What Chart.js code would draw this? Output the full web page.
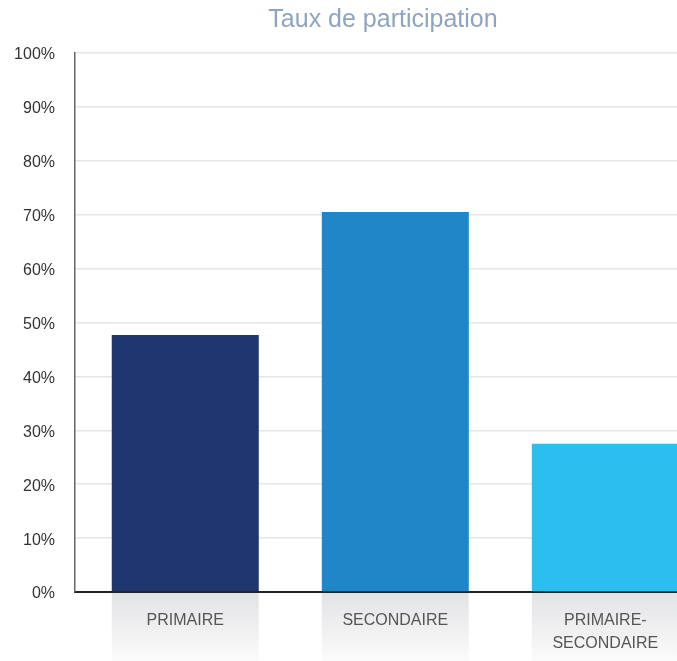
<!DOCTYPE html>
<html>
<head>
<meta charset="utf-8">
<script src="https://cdn.jsdelivr.net/npm/chart.js@4/dist/chart.umd.min.js"></script>
<style>
  html, body { margin: 0; padding: 0; overflow: hidden; background: #fff; }
  #chart { display: block; }
</style>
</head>
<body>
<canvas id="chart" width="766" height="661"></canvas>
<script>
// données
const categories = [['PRIMAIRE'], ['SECONDAIRE'], ['PRIMAIRE-', 'SECONDAIRE']];
const participation = [47.7, 70.5, 27.5];
const barColors = ['#20366e', '#2086c8', '#2bbff0'];
const yTickValues = [0, 10, 20, 30, 40, 50, 60, 70, 80, 90, 100];

const FONT = "'Liberation Sans', Arial, sans-serif";

// fond dégradé gris sous chaque étiquette de catégorie
const labelBoxes = {
  id: 'labelBoxes',
  beforeDraw(chart) {
    const ctx = chart.ctx;
    const area = chart.chartArea;
    const meta = chart.getDatasetMeta(0);
    const grad = ctx.createLinearGradient(0, area.bottom, 0, chart.height);
    grad.addColorStop(0, '#e2e3e5');
    grad.addColorStop(1, '#fbfbfb');
    ctx.save();
    ctx.fillStyle = grad;
    meta.data.forEach(bar => {
      ctx.fillRect(bar.x - bar.width / 2, area.bottom, bar.width, chart.height - area.bottom);
    });
    ctx.restore();
  }
};

new Chart(document.getElementById('chart'), {
  type: 'bar',
  data: {
    datasets: [{
      label: 'Taux de participation',
      data: participation.map((v, i) => ({ x: i, y: v })),
      backgroundColor: barColors,
      borderWidth: 0,
      categoryPercentage: 1,
      barPercentage: 0.7
    }]
  },
  options: {
    responsive: false,
    animation: false,
    layout: { padding: 0 },
    plugins: {
      legend: { display: false },
      tooltip: { enabled: false },
      title: {
        display: true,
        text: 'Taux de participation',
        color: '#8fa4c0',
        font: { family: FONT, size: 25, weight: 'normal' },
        padding: { top: 5, bottom: 18 }
      }
    },
    scales: {
      x: {
        type: 'linear',
        offset: false,
        min: -0.525,
        max: 2.765,
        afterFit(scale) { scale.height = 69; },
        afterBuildTicks(scale) {
          scale.ticks = scale.ticks.filter(t => Number.isInteger(t.value) && categories[t.value]);
          scale.min = -0.525;
          scale.max = 2.765;
        },
        grid: { display: false, drawTicks: false, offset: false },
        border: { display: true, color: '#222', width: 2 },
        ticks: {
          stepSize: 1,
          includeBounds: false,
          autoSkip: false,
          maxRotation: 0,
          padding: 17,
          color: '#555',
          font: { family: FONT, size: 16, lineHeight: 1.44 },
          callback: v => categories[v]
        }
      },
      y: {
        min: 0,
        max: 100,
        afterFit(scale) { scale.width = 75; },
        afterBuildTicks(scale) {
          scale.ticks = yTickValues.map(v => ({ value: v }));
        },
        grid: {
          drawTicks: false,
          lineWidth: 1.5,
          color: c => (c.tick && c.tick.value === 0) ? 'rgba(0,0,0,0)' : '#e6e6e6'
        },
        border: { display: true, color: '#666', width: 1.5 },
        ticks: {
          padding: 20,
          labelOffset: 2,
          color: '#333',
          font: { family: FONT, size: 16 },
          callback: v => v + '%'
        }
      }
    }
  },
  plugins: [labelBoxes]
});
</script>
</body>
</html>
